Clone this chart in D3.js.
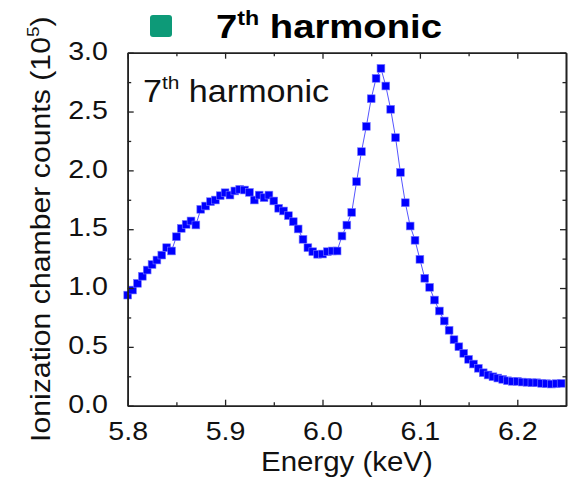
<!DOCTYPE html>
<html>
<head>
<meta charset="utf-8">
<script src="https://cdn.jsdelivr.net/npm/d3@7"></script>
<style>
  body { margin: 0; background: #fff; }
  svg { font-family: "Liberation Sans", Arial, sans-serif; }
</style>
</head>
<body>
<svg id="chart" width="573" height="478"></svg>
<script>
// energy (keV) and ionization chamber counts (x10^5)
var energy = [
  5.800, 5.805, 5.810, 5.815, 5.820, 5.825, 5.830, 5.835, 5.840, 5.845,
  5.850, 5.855, 5.860, 5.865, 5.870, 5.875, 5.880, 5.885, 5.890, 5.895,
  5.900, 5.905, 5.910, 5.915, 5.920, 5.925, 5.930, 5.935, 5.940, 5.945,
  5.950, 5.955, 5.960, 5.965, 5.970, 5.975, 5.980, 5.985, 5.990, 5.995,
  6.000, 6.005, 6.010, 6.015, 6.020, 6.025, 6.030, 6.035, 6.040, 6.045,
  6.050, 6.055, 6.060, 6.065, 6.070, 6.075, 6.080, 6.085, 6.090, 6.095,
  6.100, 6.105, 6.110, 6.115, 6.120, 6.125, 6.130, 6.135, 6.140, 6.145,
  6.150, 6.155, 6.160, 6.165, 6.170, 6.175, 6.180, 6.185, 6.190, 6.195,
  6.200, 6.205, 6.210, 6.215, 6.220, 6.225, 6.230, 6.235, 6.240, 6.245
];
var counts = [
  0.94, 0.983, 1.04, 1.10, 1.153, 1.20, 1.238, 1.28, 1.343, 1.315,
  1.436, 1.507, 1.541, 1.57, 1.536, 1.669, 1.697, 1.734, 1.748, 1.785,
  1.81, 1.79, 1.825, 1.839, 1.833, 1.813, 1.748, 1.79, 1.768, 1.79,
  1.74, 1.678, 1.655, 1.615, 1.564, 1.502, 1.414, 1.343, 1.309, 1.287,
  1.289, 1.309, 1.315, 1.315, 1.442, 1.535, 1.643, 1.904, 2.159, 2.374,
  2.609, 2.782, 2.867, 2.717, 2.519, 2.278, 1.983, 1.725, 1.527, 1.406,
  1.244, 1.083, 1.006, 0.898, 0.805, 0.72, 0.641, 0.561, 0.501, 0.445,
  0.394, 0.354, 0.318, 0.28, 0.261, 0.246, 0.235, 0.224, 0.212, 0.207,
  0.207, 0.201, 0.199, 0.195, 0.195, 0.19, 0.187, 0.184, 0.187, 0.19
];
var xTicks = [5.8, 5.9, 6.0, 6.1, 6.2];
var xMinor = [5.85, 5.95, 6.05, 6.15];
var yTicks = [0, 0.5, 1.0, 1.5, 2.0, 2.5, 3.0];
var yMinor = [0.25, 0.75, 1.25, 1.75, 2.25, 2.75];

var svg = d3.select("#chart");
var padL = 127.7, padR = 566, padT = 52.7, padB = 405.7;

var x = d3.scaleLinear().domain([5.8, 6.25]).range([padL, padR]);
var y = d3.scaleLinear().domain([0, 3.0]).range([padB, padT]);

var pts = energy.map(function(e, i) { return {e: e, c: counts[i]}; });

// connecting line + square markers
var line = d3.line().x(function(d){ return x(d.e); }).y(function(d){ return y(d.c); });
svg.append("path")
   .datum(pts)
   .attr("d", line)
   .attr("fill", "none")
   .attr("stroke", "#5555ff")
   .attr("stroke-width", 1);

var sz = 7.8;
svg.append("g").selectAll("rect")
   .data(pts)
   .enter().append("rect")
   .attr("x", function(d){ return x(d.e) - sz/2; })
   .attr("y", function(d){ return y(d.c) - sz/2; })
   .attr("width", sz)
   .attr("height", sz)
   .attr("fill", "#0000ff")
   .attr("stroke", "#7a7aff")
   .attr("stroke-width", 0.6);

// axes, ticks inside on all four sides
var axisColor = "#222";
function styleAxis(g) {
  g.selectAll("path.domain").attr("stroke", axisColor).attr("stroke-width", 1.6);
  g.selectAll(".tick line").attr("stroke", axisColor).attr("stroke-width", 1.3);
}

var gx = svg.append("g").attr("transform", "translate(0," + padB + ")")
  .call(d3.axisBottom(x).tickValues(xTicks).tickSize(-6).tickSizeOuter(0)
        .tickPadding(16).tickFormat(d3.format(".1f")));
svg.append("g").attr("transform", "translate(0," + padB + ")")
  .call(d3.axisBottom(x).tickValues(xMinor).tickSize(-3.5).tickSizeOuter(0).tickFormat(""))
  .call(styleAxis);
var gy = svg.append("g").attr("transform", "translate(" + padL + ",0)")
  .call(d3.axisLeft(y).tickValues(yTicks).tickSize(-6).tickSizeOuter(0)
        .tickPadding(18).tickFormat(d3.format(".1f")));
svg.append("g").attr("transform", "translate(" + padL + ",0)")
  .call(d3.axisLeft(y).tickValues(yMinor).tickSize(-3.5).tickSizeOuter(0).tickFormat(""))
  .call(styleAxis);

svg.append("g").attr("transform", "translate(0," + padT + ")")
  .call(d3.axisTop(x).tickValues(xTicks).tickSize(-6).tickSizeOuter(0).tickFormat(""))
  .call(styleAxis);
svg.append("g").attr("transform", "translate(0," + padT + ")")
  .call(d3.axisTop(x).tickValues(xMinor).tickSize(-3.5).tickSizeOuter(0).tickFormat(""))
  .call(styleAxis);
svg.append("g").attr("transform", "translate(" + padR + ",0)")
  .call(d3.axisRight(y).tickValues(yTicks).tickSize(-6).tickSizeOuter(0).tickFormat(""))
  .call(styleAxis);
svg.append("g").attr("transform", "translate(" + padR + ",0)")
  .call(d3.axisRight(y).tickValues(yMinor).tickSize(-3.5).tickSizeOuter(0).tickFormat(""))
  .call(styleAxis);

[gx, gy].forEach(function(g) {
  styleAxis(g);
  g.selectAll("text")
   .attr("font-size", 26)
   .attr("font-family", "'Liberation Sans', Arial, sans-serif")
   .attr("fill", "#111");
});
gx.selectAll("text").attr("transform", "scale(1.1,1)");
gy.selectAll("text").attr("transform", "scale(1.1,1)").attr("dy", "0.26em");

// axis titles
svg.append("g")
   .attr("transform", "translate(" + ((padL + padR) / 2) + ",471) scale(1.09,1)")
   .append("text")
   .attr("text-anchor", "middle")
   .attr("font-size", 27)
   .attr("fill", "#111")
   .text("Energy (keV)");

var yt = svg.append("g")
   .attr("transform", "translate(50," + ((padT + padB) / 2) + ") rotate(-90) scale(1.12,1)")
   .append("text")
   .attr("text-anchor", "middle")
   .attr("font-size", 27)
   .attr("fill", "#111");
yt.append("tspan").text("Ionization chamber counts (10");
yt.append("tspan").attr("font-size", 17).attr("dy", -11).text("5");
yt.append("tspan").attr("dy", 11).text(")");

// inset label
var lab = svg.append("g")
   .attr("transform", "translate(143,101.5) scale(1.1,1)")
   .append("text")
   .attr("font-size", 31)
   .attr("fill", "#111");
lab.append("tspan").text("7");
lab.append("tspan").attr("font-size", 19).attr("dy", -13).text("th");
lab.append("tspan").attr("dy", 13).text(" harmonic");

// title with colour chip
svg.append("rect")
   .attr("x", 150).attr("y", 15)
   .attr("width", 22).attr("height", 22)
   .attr("rx", 3)
   .attr("fill", "#0d9a78");
var ttl = svg.append("g")
   .attr("transform", "translate(216,38) scale(1.16,1)")
   .append("text")
   .attr("font-size", 33)
   .attr("font-weight", "bold")
   .attr("fill", "#000");
ttl.append("tspan").text("7");
ttl.append("tspan").attr("font-size", 20).attr("dy", -13).text("th");
ttl.append("tspan").attr("dy", 13).text(" harmonic");
</script>
</body>
</html>
